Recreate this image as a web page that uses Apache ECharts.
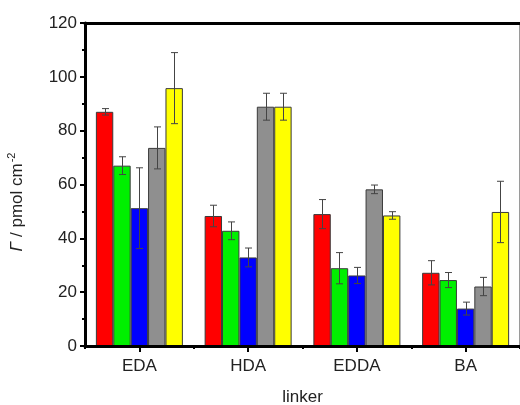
<!DOCTYPE html>
<html>
<head>
<meta charset="utf-8">
<script src="https://cdn.jsdelivr.net/npm/echarts@6/dist/echarts.min.js"></script>
<style>
  html, body { margin: 0; padding: 0; background: #fff; overflow: hidden; }
  #chart { width: 520px; height: 405px; }
</style>
</head>
<body>
<div id="chart"></div>
<script>
// Surface coverage per linker, five measurement sets with standard deviations
var categories = ['EDA', 'HDA', 'EDDA', 'BA'];
var redValues = [87, 48.3, 49, 27.2];
var redErrors = [1.2, 4, 5.4, 4.5];
var greenValues = [67, 42.8, 28.9, 24.5];
var greenErrors = [3.3, 3.3, 5.8, 2.8];
var blueValues = [51.2, 32.9, 26.2, 13.9];
var blueErrors = [15, 3.5, 3, 2.4];
var grayValues = [73.6, 88.9, 58.2, 22.1];
var grayErrors = [7.8, 5, 1.6, 3.4];
var yellowValues = [95.8, 88.9, 48.5, 49.8];
var yellowErrors = [13.2, 5, 1.4, 11.4];
var yTicks = [0, 20, 40, 60, 80, 100, 120];

var seriesSets = [
  { values: redValues, errors: redErrors, color: '#ff0000' },
  { values: greenValues, errors: greenErrors, color: '#00f000' },
  { values: blueValues, errors: blueErrors, color: '#0000ff' },
  { values: grayValues, errors: grayErrors, color: '#8f8f8f' },
  { values: yellowValues, errors: yellowErrors, color: '#ffff00' }
];

var FONT = '"Liberation Sans", Arial, Helvetica, sans-serif';
var TEXT = '#222';
var GROUP_FILL = 0.8; // share of a category occupied by the bar group

var chart = echarts.init(document.getElementById('chart'), null, {
  renderer: 'canvas', width: 520, height: 405
});

var series = [];
seriesSets.forEach(function (s) {
  series.push({
    type: 'bar',
    xAxisIndex: 0,
    yAxisIndex: 0,
    data: s.values,
    barGap: '0%',
    barCategoryGap: '20%',
    itemStyle: { color: s.color, borderColor: '#3a3a3a', borderWidth: 1 },
    z: 2
  });
});

seriesSets.forEach(function (s, idx) {
  var data = s.values.map(function (v, i) { return [i, v, s.errors[i]]; });
  series.push({
    type: 'custom',
    xAxisIndex: 0,
    yAxisIndex: 0,
    data: data,
    z: 5,
    renderItem: function (params, api) {
      var ci = api.value(0);
      var v = api.value(1);
      var e = api.value(2);
      var catW = api.size([1, 0])[0];
      var bw = catW * GROUP_FILL / seriesSets.length;
      var center = api.coord([ci, v]);
      var x = Math.round(center[0] + (idx - (seriesSets.length - 1) / 2) * bw) + 0.5;
      var yTop = api.coord([ci, v + e])[1];
      var yBot = api.coord([ci, v - e])[1];
      var cap = 3.5;
      var st = { stroke: '#444', lineWidth: 1 };
      return {
        type: 'group',
        children: [
          { type: 'line', shape: { x1: x, y1: yTop, x2: x, y2: yBot }, style: st },
          { type: 'line', shape: { x1: x - cap, y1: yTop, x2: x + cap, y2: yTop }, style: st },
          { type: 'line', shape: { x1: x - cap, y1: yBot, x2: x + cap, y2: yBot }, style: st }
        ]
      };
    }
  });
});

var option = {
  backgroundColor: '#fff',
  animation: false,
  grid: { left: 85, right: 0, top: 23, bottom: 59, containLabel: false, outerBoundsMode: 'none' },
  xAxis: [
    {
      type: 'category',
      data: categories,
      position: 'bottom',
      axisLine: { show: true, lineStyle: { color: '#000', width: 3 } },
      axisTick: { show: true, alignWithLabel: true, length: 6, lineStyle: { color: '#000', width: 2 } },
      axisLabel: { color: TEXT, fontFamily: FONT, fontSize: 17, margin: 12 },
      name: 'linker',
      nameLocation: 'middle',
      nameGap: 43,
      nameTextStyle: { color: TEXT, fontFamily: FONT, fontSize: 17, verticalAlign: 'top' },
      splitLine: { show: false },
      z: 10
    },
    {
      type: 'category',
      data: categories,
      position: 'bottom',
      axisLine: { show: false },
      axisTick: { show: true, length: 3, lineStyle: { color: '#000', width: 2 } },
      axisLabel: { show: false },
      splitLine: { show: false }
    },
    {
      type: 'category',
      data: categories,
      position: 'top',
      axisLine: { show: true, lineStyle: { color: '#000', width: 3 } },
      axisTick: { show: false },
      axisLabel: { show: false },
      splitLine: { show: false },
      z: 10
    }
  ],
  yAxis: [
    {
      type: 'value',
      min: yTicks[0],
      max: yTicks[yTicks.length - 1],
      interval: 20,
      position: 'left',
      axisLine: { show: true, lineStyle: { color: '#000', width: 3 } },
      axisTick: { show: true, inside: false, length: 5, lineStyle: { color: '#000', width: 2 } },
      minorTick: { show: true, splitNumber: 2, length: 3, lineStyle: { color: '#000', width: 2 } },
      axisLabel: { color: TEXT, fontFamily: FONT, fontSize: 17, margin: 8 },
      splitLine: { show: false },
      z: 10
    },
    {
      type: 'value',
      min: yTicks[0],
      max: yTicks[yTicks.length - 1],
      interval: 20,
      position: 'right',
      axisLine: { show: true, lineStyle: { color: '#9a9a9a', width: 2 } },
      axisTick: { show: false },
      axisLabel: { show: false },
      splitLine: { show: false }
    }
  ],
  graphic: [
    {
      type: 'text',
      rotation: Math.PI / 2,
      x: 17,
      y: 202,
      style: {
        text: '{g|Γ} / pmol cm{s|-2}',
        fill: TEXT,
        font: '17px ' + FONT,
        align: 'center',
        verticalAlign: 'middle',
        rich: {
          g: { fontStyle: 'italic', fontSize: 17, fontFamily: FONT, fill: TEXT },
          s: { fontSize: 11, fontFamily: FONT, fill: TEXT, verticalAlign: 'top', padding: [0, 0, 10, 1] }
        }
      }
    }
  ],
  series: series
};

chart.setOption(option);
</script>
</body>
</html>
